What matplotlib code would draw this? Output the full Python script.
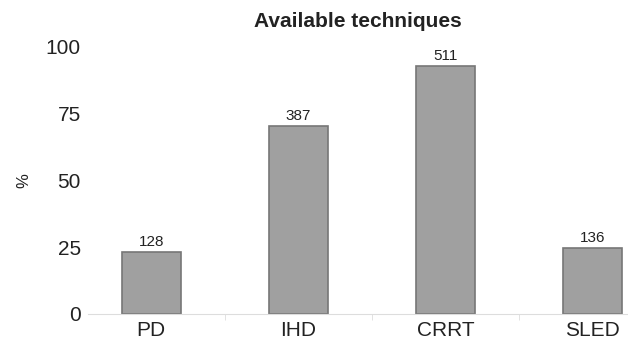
import numpy as np
import matplotlib.pyplot as plt

# Technique availability, counts of units and share of all respondents
techniques = ['PD', 'IHD', 'CRRT', 'SLED']
counts = [128, 387, 511, 136]
total_units = 552
yticks = [0, 25, 50, 75, 100]

percent = [c / total_units * 100 for c in counts]

plt.rcParams['font.family'] = ['Liberation Sans', 'DejaVu Sans']

fig = plt.figure(figsize=(6.28, 3.42), dpi=100)
ax = fig.add_axes([0.14, 0.082, 0.86, 0.783])

x = np.arange(len(techniques))
bars = ax.bar(x, percent, width=0.4, color='#a0a0a0', edgecolor='#777777', linewidth=1.2)

for rect, n in zip(bars, counts):
    ax.text(rect.get_x() + rect.get_width() / 2, rect.get_height() + 1.2, str(n),
            ha='center', va='bottom', fontsize=11, color='#222222')

ax.set_xlim(-0.43, 3.24)
ax.set_ylim(0, 100)
ax.set_xticks(x)
ax.set_xticklabels(techniques, fontsize=15, color='#222222')
ax.set_xticks(x[:-1] + 0.5, minor=True)
ax.set_yticks(yticks)
ax.set_yticklabels([str(v) for v in yticks], fontsize=15, color='#222222')

ax.tick_params(axis='x', which='major', length=0, pad=5)
ax.tick_params(axis='x', which='minor', length=4, color='#dddddd', direction='out')
ax.tick_params(axis='y', length=0, pad=5)

for side in ['top', 'right', 'left']:
    ax.spines[side].set_visible(False)
ax.spines['bottom'].set_color('#dddddd')

ax.set_ylabel('%', fontsize=12, color='#222222')
ax.yaxis.set_label_coords(-0.105, 0.5)
ax.set_title('Available techniques', fontsize=15, fontweight='bold', color='#222222', pad=14)

fig.savefig('out.png', dpi=100)
